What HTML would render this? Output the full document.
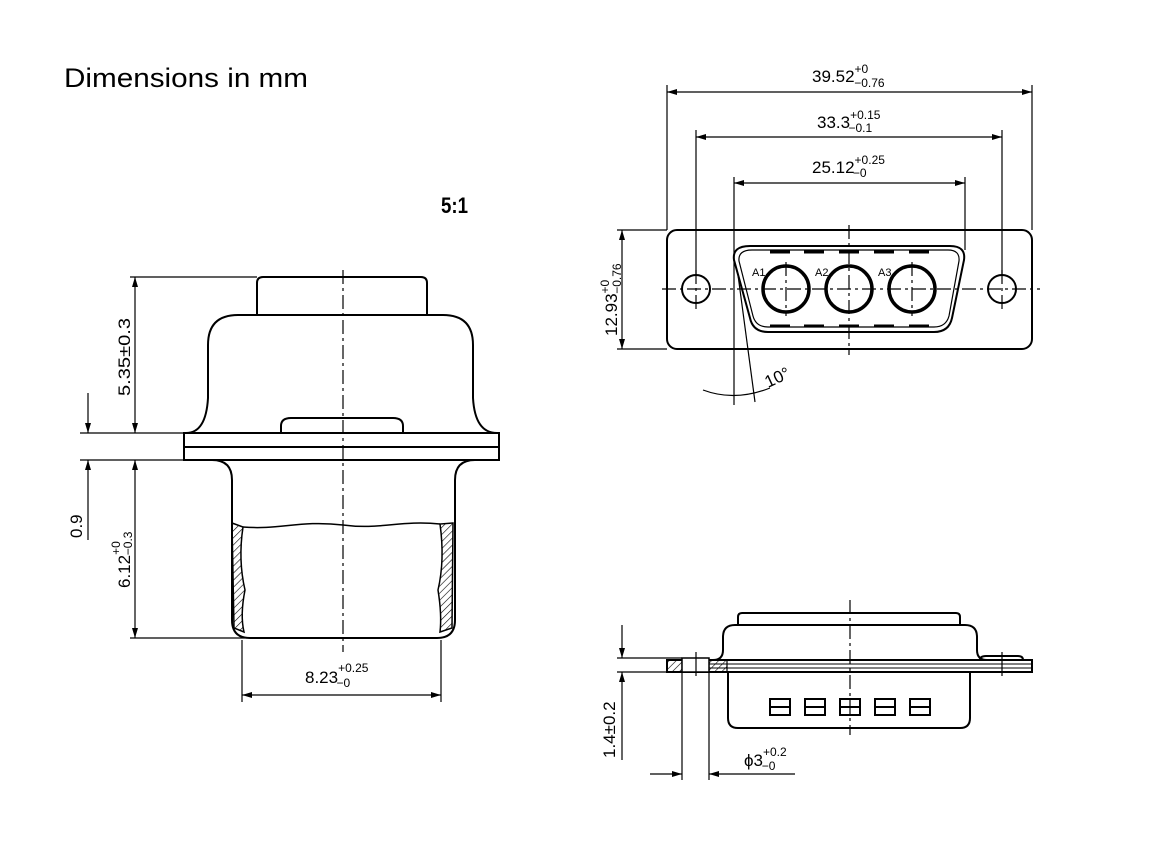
<!DOCTYPE html>
<html><head><meta charset="utf-8"><style>
html,body{margin:0;padding:0;background:#fff;}
svg{display:block;font-family:"Liberation Sans",sans-serif;}
.t{font-size:17px;fill:#000;}
.s{font-size:12px;fill:#000;}
</style></head><body>
<svg width="1152" height="864" viewBox="0 0 1152 864" xmlns="http://www.w3.org/2000/svg">
<defs>
<marker id="a" viewBox="0 0 10 6" refX="10" refY="3" markerWidth="10" markerHeight="6" orient="auto-start-reverse" markerUnits="userSpaceOnUse"><path d="M0,0 L10,3 L0,6 z" fill="#000"/></marker>
<pattern id="h" width="5" height="5" patternUnits="userSpaceOnUse" patternTransform="rotate(45)"><line x1="0" y1="0" x2="0" y2="5" stroke="#000" stroke-width="1.2"/></pattern>
</defs>
<rect width="1152" height="864" fill="#fff"/>
<text x="64" y="87" style="font-size:27px" textLength="244" lengthAdjust="spacingAndGlyphs">Dimensions in mm</text>
<text x="441" y="213" style="font-size:22px;font-weight:bold" textLength="27" lengthAdjust="spacingAndGlyphs">5:1</text>

<!-- LEFT VIEW -->
<g fill="none" stroke="#000" stroke-width="2">
<path d="M257,315 V283 q0,-6 6,-6 H421 q6,0 6,6 V315"/>
<path d="M186,433 q20,0 22,-35 V345 q0,-30 30,-30 H443 q30,0 30,30 V398 q2,35 24,35"/>
<path d="M281,433 V426 q0,-8 10,-8 H393 q10,0 10,8 V433"/>
<rect x="184" y="433" width="315" height="27"/>
<line x1="184" y1="447" x2="499" y2="447"/>
<path d="M212,460 q20,0 20,20 V620 q0,18 18,18 H437 q18,0 18,-18 V480 q0,-20 20,-20"/>
<path d="M243,527 C280,530 300,520 343,525 C380,530 400,520 440,524" stroke-width="1.5"/>
</g>
<path d="M232,523 L243,527 Q238,560 245,590 Q240,615 244,632 L234,628 Z" fill="url(#h)" stroke="#000" stroke-width="1.5"/>
<path d="M453,523 L440,524 Q445,560 438,590 Q442,615 440,632 L452,628 Z" fill="url(#h)" stroke="#000" stroke-width="1.5"/>
<line x1="343" y1="270" x2="343" y2="652" stroke="#000" stroke-width="1.2" stroke-dasharray="14,4,3,4"/>
<g stroke="#000" stroke-width="1.2" fill="none">
<line x1="130" y1="277" x2="257" y2="277"/>
<line x1="80" y1="433" x2="184" y2="433"/>
<line x1="80" y1="460" x2="184" y2="460"/>
<line x1="130" y1="638" x2="245" y2="638"/>
<line x1="135" y1="277" x2="135" y2="433" marker-start="url(#a)" marker-end="url(#a)"/>
<line x1="135" y1="460" x2="135" y2="638" marker-start="url(#a)" marker-end="url(#a)"/>
<line x1="88" y1="393" x2="88" y2="433" marker-end="url(#a)"/>
<line x1="88" y1="540" x2="88" y2="460" marker-end="url(#a)"/>
<line x1="242" y1="640" x2="242" y2="702"/>
<line x1="441" y1="640" x2="441" y2="702"/>
<line x1="242" y1="695" x2="441" y2="695" marker-start="url(#a)" marker-end="url(#a)"/>
</g>
<text class="t" transform="translate(130,396) rotate(-90)" textLength="78" lengthAdjust="spacingAndGlyphs">5.35±0.3</text>
<text class="t" transform="translate(82,538) rotate(-90)">0.9</text>
<text class="t" transform="translate(130,588) rotate(-90)">6.12<tspan class="s" dy="-10">+0</tspan><tspan class="s" dx="-14" dy="12">−0.3</tspan></text>
<text class="t" x="305" y="683">8.23<tspan class="s" dy="-11">+0.25</tspan><tspan class="s" dx="-32" dy="15">−0</tspan></text>

<!-- TOP RIGHT VIEW -->
<g fill="none" stroke="#000" stroke-width="2">
<rect x="667" y="230" width="365" height="119" rx="10"/>
<circle cx="696" cy="289" r="14"/>
<circle cx="1002" cy="289" r="14"/>
<path d="M750,246 H950 q16,0 14,14 L952,318 q-3,14 -18,14 H768 q-15,0 -18,-14 L734,260 q-2,-14 16,-14 z"/>
<path d="M752,250 H948 q12,0 11,11 L949,316 q-3,11 -15,11 H768 q-12,0 -15,-11 L739,261 q-1,-11 13,-11 z" stroke-width="1.2"/>
<circle cx="786" cy="289" r="23" stroke-width="3.5"/>
<circle cx="849" cy="289" r="23" stroke-width="3.5"/>
<circle cx="912" cy="289" r="23" stroke-width="3.5"/>
</g>
<g stroke="#000" stroke-width="3">
<line x1="770" y1="252" x2="790" y2="252"/><line x1="804" y1="252" x2="824" y2="252"/><line x1="839" y1="252" x2="859" y2="252"/><line x1="874" y1="252" x2="894" y2="252"/><line x1="909" y1="252" x2="929" y2="252"/>
<line x1="770" y1="326" x2="790" y2="326"/><line x1="804" y1="326" x2="824" y2="326"/><line x1="839" y1="326" x2="859" y2="326"/><line x1="874" y1="326" x2="894" y2="326"/><line x1="909" y1="326" x2="929" y2="326"/>
</g>
<g stroke="#000" stroke-width="1.2" stroke-dasharray="14,4,3,4">
<line x1="662" y1="289" x2="1040" y2="289"/>
<line x1="849" y1="225" x2="849" y2="355"/>
<line x1="786" y1="262" x2="786" y2="316"/>
<line x1="912" y1="262" x2="912" y2="316"/>
<line x1="696" y1="270" x2="696" y2="310"/>
<line x1="1002" y1="270" x2="1002" y2="310"/>
</g>
<text x="752" y="276" style="font-size:11px">A1</text>
<text x="815" y="276" style="font-size:11px">A2</text>
<text x="878" y="276" style="font-size:11px">A3</text>
<g stroke="#000" stroke-width="1.2" fill="none">
<line x1="667" y1="85" x2="667" y2="230"/>
<line x1="1032" y1="85" x2="1032" y2="230"/>
<line x1="667" y1="92" x2="1032" y2="92" marker-start="url(#a)" marker-end="url(#a)"/>
<line x1="696" y1="130" x2="696" y2="275"/>
<line x1="1002" y1="130" x2="1002" y2="275"/>
<line x1="696" y1="137" x2="1002" y2="137" marker-start="url(#a)" marker-end="url(#a)"/>
<line x1="734" y1="177" x2="734" y2="405"/>
<line x1="965" y1="177" x2="965" y2="250"/>
<line x1="734" y1="183" x2="965" y2="183" marker-start="url(#a)" marker-end="url(#a)"/>
<line x1="617" y1="230" x2="667" y2="230"/>
<line x1="617" y1="349" x2="667" y2="349"/>
<line x1="622" y1="230" x2="622" y2="349" marker-start="url(#a)" marker-end="url(#a)"/>
<line x1="738" y1="275" x2="755" y2="402"/>
<path d="M703,390 Q735,402 770,388"/>
</g>
<text class="t" x="812" y="82">39.52<tspan class="s" dy="-9">+0</tspan><tspan class="s" dx="-14" dy="14">−0.76</tspan></text>
<text class="t" x="817" y="128">33.3<tspan class="s" dy="-9">+0.15</tspan><tspan class="s" dx="-32" dy="13">−0.1</tspan></text>
<text class="t" x="812" y="173">25.12<tspan class="s" dy="-9">+0.25</tspan><tspan class="s" dx="-32" dy="13">−0</tspan></text>
<text class="t" transform="translate(617,336) rotate(-90)">12.93<tspan class="s" dy="-8">+0</tspan><tspan class="s" dx="-14" dy="12">−0.76</tspan></text>
<text class="t" transform="translate(768,388) rotate(-25)">10°</text>

<!-- BOTTOM RIGHT VIEW -->
<g fill="none" stroke="#000" stroke-width="2">
<path d="M738,625 V617 q0,-4 4,-4 H956 q4,0 4,4 V625"/>
<path d="M713,660 q10,0 10,-10 V637 q0,-12 12,-12 H965 q12,0 12,12 V650 q0,10 10,10"/>
<rect x="667" y="660" width="365" height="12"/>
<path d="M980,660 q0,-4 6,-4 H1018 q5,0 5,4"/>
<path d="M728,672 V718 q0,10 10,10 H960 q10,0 10,-10 V672"/>
</g>
<line x1="700" y1="664" x2="1032" y2="664" stroke="#000" stroke-width="1"/>
<line x1="700" y1="668" x2="1032" y2="668" stroke="#000" stroke-width="1"/>
<rect x="667" y="660" width="15" height="12" fill="url(#h)" stroke="#000" stroke-width="1.2"/>
<rect x="709" y="660" width="18" height="12" fill="url(#h)" stroke="#000" stroke-width="1.2"/>
<rect x="682" y="658" width="27" height="14" fill="#fff" stroke="#000" stroke-width="1.5"/>
<g fill="none" stroke="#000" stroke-width="2">
<rect x="770" y="699" width="20" height="16"/><line x1="770" y1="707" x2="790" y2="707"/>
<rect x="805" y="699" width="20" height="16"/><line x1="805" y1="707" x2="825" y2="707"/>
<rect x="840" y="699" width="20" height="16"/><line x1="840" y1="707" x2="860" y2="707"/>
<rect x="875" y="699" width="20" height="16"/><line x1="875" y1="707" x2="895" y2="707"/>
<rect x="910" y="699" width="20" height="16"/><line x1="910" y1="707" x2="930" y2="707"/>
</g>
<line x1="850" y1="600" x2="850" y2="735" stroke="#000" stroke-width="1.2" stroke-dasharray="14,4,3,4"/>
<line x1="696" y1="652" x2="696" y2="676" stroke="#000" stroke-width="1.2"/>
<line x1="1002" y1="652" x2="1002" y2="676" stroke="#000" stroke-width="1.2"/>
<g stroke="#000" stroke-width="1.2" fill="none">
<line x1="617" y1="658" x2="682" y2="658"/>
<line x1="617" y1="672" x2="667" y2="672"/>
<line x1="622" y1="625" x2="622" y2="658" marker-end="url(#a)"/>
<line x1="622" y1="760" x2="622" y2="672" marker-end="url(#a)"/>
<line x1="682" y1="672" x2="682" y2="780"/>
<line x1="709" y1="672" x2="709" y2="780"/>
<line x1="650" y1="774" x2="682" y2="774" marker-end="url(#a)"/>
<line x1="795" y1="774" x2="709" y2="774" marker-end="url(#a)"/>
</g>
<text class="t" transform="translate(615,758) rotate(-90)">1.4±0.2</text>
<text class="t" x="744" y="766">ϕ3<tspan class="s" dy="-10">+0.2</tspan><tspan class="s" dx="-25" dy="14">−0</tspan></text>
</svg>
</body></html>
